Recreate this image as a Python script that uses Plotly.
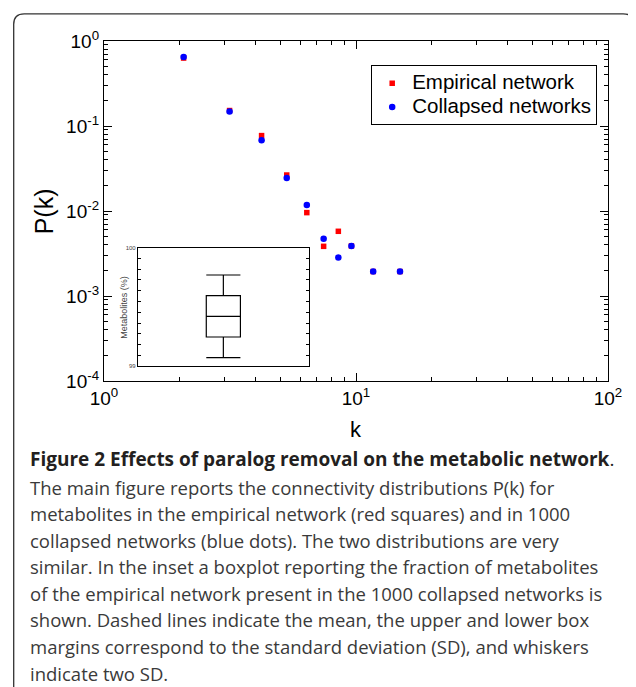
import plotly.graph_objects as go

# ---- data ----
k_values = [2.07, 3.15, 4.22, 5.31, 6.38, 7.44, 8.51, 9.59, 11.7, 14.95]
p_empirical = [0.63, 0.152, 0.0771, 0.0265, 0.00957, 0.00384, 0.00577, 0.00388, 0.00194, 0.00194]
p_collapsed = [0.648, 0.148, 0.0679, 0.0244, 0.0118, 0.00473, 0.00283, 0.00388, 0.00194, 0.00194]
series_names = ["Empirical network", "Collapsed networks"]

x_tickvals = [1, 10, 100]
x_ticktext = ["10<sup>0</sup>", "10<sup>1</sup>", "10<sup>2</sup>"]
y_tickvals = [1e-4, 1e-3, 1e-2, 1e-1, 1]
y_ticktext = ["10<sup>-4</sup>", "10<sup>-3</sup>", "10<sup>-2</sup>", "10<sup>-1</sup>", "10<sup>0</sup>"]

# inset boxplot statistics (Metabolites %)
box_lower = [99.073]
box_q1 = [99.247]
box_median = [99.421]
box_q3 = [99.596]
box_upper = [99.769]
inset_tickvals = [99, 100]
inset_ticktext = ["99", "100"]

caption_bold = "Figure 2 Effects of paralog removal on the metabolic network"
caption_lines = [
    "The main figure reports the connectivity distributions P(k) for",
    "metabolites in the empirical network (red squares) and in 1000",
    "collapsed networks (blue dots). The two distributions are very",
    "similar. In the inset a boxplot reporting the fraction of metabolites",
    "of the empirical network present in the 1000 collapsed networks is",
    "shown. Dashed lines indicate the mean, the upper and lower box",
    "margins correspond to the standard deviation (SD), and whiskers",
    "indicate two SD.",
]

# ---- layout geometry ----
# The page body has an 8px margin, so the figure is drawn 8px smaller and
# every reference-pixel position is expressed relative to the plot area.
OFF = 8
W, H = 636 - OFF, 687 - OFF
PLOT_L, PLOT_R, PLOT_T, PLOT_B = 104.3, 608.3, 40.7, 380.7  # reference pixels
PW, PH = PLOT_R - PLOT_L, PLOT_B - PLOT_T
L = PLOT_L - OFF
T = PLOT_T - OFF
R = W - (PLOT_R - OFF)
B = H - (PLOT_B - OFF)


def px(x):
    return (x - PLOT_L) / PW


def py(y):
    return (PLOT_B - y) / PH


major_minor_x = [2, 3, 4, 5, 6, 7, 8, 9, 20, 30, 40, 50, 60, 70, 80, 90]
major_minor_y = [m * 10.0 ** e for e in (-4, -3, -2, -1) for m in range(2, 10)]
inset_minor = [99 + i / 11 for i in range(1, 11)]

tick_font = dict(family="Liberation Sans, Arial, sans-serif", size=19, color="black")


def legend_label(name):
    return f'<span style="font-size:20.5px">{name}</span>'


fig = go.Figure()
fig.add_trace(go.Scatter(
    x=k_values, y=p_empirical, mode="markers", name=legend_label(series_names[0]),
    marker=dict(symbol="square", size=5.5, color="#ff0000", line=dict(width=0)),
    xaxis="x", yaxis="y"))
fig.add_trace(go.Scatter(
    x=k_values, y=p_collapsed, mode="markers", name=legend_label(series_names[1]),
    marker=dict(symbol="circle", size=6.5, color="#0000ff", line=dict(width=0)),
    xaxis="x", yaxis="y"))
fig.add_trace(go.Box(
    x=[0], q1=box_q1, median=box_median, q3=box_q3,
    lowerfence=box_lower, upperfence=box_upper,
    width=0.2, whiskerwidth=1, boxpoints=False,
    fillcolor="rgba(0,0,0,0)", line=dict(color="black", width=1.2),
    showlegend=False, xaxis="x2", yaxis="y2", hoverinfo="skip"))

fig.update_layout(
    width=W, height=H,
    margin=dict(l=L, r=R, t=T, b=B, pad=0),
    paper_bgcolor="white", plot_bgcolor="white",
    showlegend=True,
    legend=dict(
        x=px(371.5), y=py(65), xanchor="left", yanchor="top",
        bgcolor="white", bordercolor="black", borderwidth=1,
        font=dict(family="Liberation Sans, Arial, sans-serif", size=16, color="black"),
        tracegroupgap=0,
    ),
    xaxis=dict(
        type="log", range=[0, 2], domain=[0, 1],
        tickmode="array", tickvals=x_tickvals, ticktext=x_ticktext,
        ticks="inside", ticklen=8, tickwidth=1, tickcolor="black",
        showline=True, linecolor="black", linewidth=1.3, mirror="ticks",
        showgrid=False, zeroline=False, tickfont=tick_font,
        minor=dict(tickvals=major_minor_x, ticks="inside", ticklen=4,
                   tickwidth=1, tickcolor="black", showgrid=False),
    ),
    yaxis=dict(
        type="log", range=[-4, 0], domain=[0, 1],
        tickmode="array", tickvals=y_tickvals, ticktext=y_ticktext,
        ticks="inside", ticklen=8, tickwidth=1, tickcolor="black",
        showline=True, linecolor="black", linewidth=1.3, mirror="ticks",
        showgrid=False, zeroline=False, tickfont=tick_font,
        minor=dict(tickvals=major_minor_y, ticks="inside", ticklen=4,
                   tickwidth=1, tickcolor="black", showgrid=False),
    ),
    xaxis2=dict(
        domain=[px(138.3), px(309)], anchor="y2", range=[-0.5, 0.5],
        showticklabels=False, ticks="", showline=True, linecolor="black",
        linewidth=1.3, mirror=True, showgrid=False, zeroline=False,
    ),
    yaxis2=dict(
        domain=[py(366), py(247.3)], anchor="x2", range=[99, 100],
        tickmode="array", tickvals=inset_tickvals, ticktext=inset_ticktext,
        ticks="inside", ticklen=3, tickwidth=1, tickcolor="black",
        showline=True, linecolor="black", linewidth=1.3, mirror="ticks",
        showgrid=False, zeroline=False,
        tickfont=dict(family="Liberation Sans, Arial, sans-serif", size=6, color="#444"),
        minor=dict(tickvals=inset_minor, ticks="inside", ticklen=3,
                   tickwidth=1, tickcolor="black", showgrid=False),
    ),
)

annotations = [
    dict(text="k", x=px(356), y=py(429), xref="paper", yref="paper",
         showarrow=False, xanchor="center", yanchor="middle",
         font=dict(family="Liberation Sans, Arial, sans-serif", size=22, color="black")),
    dict(text="P(k)", x=px(44.6), y=py(210.7), xref="paper", yref="paper",
         showarrow=False, xanchor="center", yanchor="middle", textangle=-90,
         font=dict(family="Liberation Sans, Arial, sans-serif", size=25, color="black")),
    dict(text="Metabolites (%)", x=px(124), y=py(306.7), xref="paper", yref="paper",
         showarrow=False, xanchor="center", yanchor="middle", textangle=-90,
         font=dict(family="Liberation Sans, Arial, sans-serif", size=9, color="#444")),
]

cap_font = "Open Sans, sans-serif"
cap_x = 28
cap_y = [459, 487, 513.5, 540, 566.5, 593, 619.5, 646, 673]
annotations.append(dict(
    text="<b>" + caption_bold + "</b>.", x=px(cap_x), y=py(cap_y[0]),
    xref="paper", yref="paper", showarrow=False, xanchor="left", yanchor="middle",
    font=dict(family=cap_font, size=19, color="#231f20")))
for line, yy in zip(caption_lines, cap_y[1:]):
    annotations.append(dict(
        text=line, x=px(cap_x), y=py(yy), xref="paper", yref="paper",
        showarrow=False, xanchor="left", yanchor="middle",
        font=dict(family=cap_font, size=18.5, color="#3a3a3a")))
fig.update_layout(annotations=annotations)

# rounded figure frame
frame = (f"M {px(14)},{py(700)} L {px(14)},{py(24)} Q {px(14)},{py(13.5)} {px(24.5)},{py(13.5)} "
         f"L {px(623.5)},{py(13.5)} Q {px(634)},{py(13.5)} {px(634)},{py(24)} L {px(634)},{py(700)}")
fig.add_shape(type="path", path=frame, xref="paper", yref="paper",
              line=dict(color="#333333", width=1.3))

fig.write_html("out.html")
